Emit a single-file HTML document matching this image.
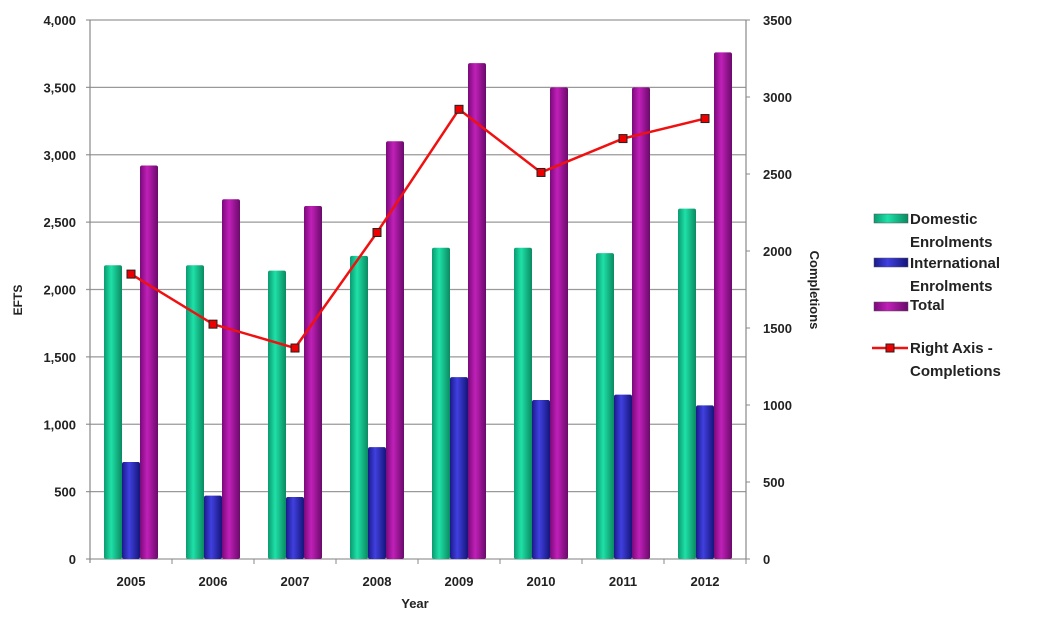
<!DOCTYPE html>
<html><head><meta charset="utf-8"><style>
html,body{margin:0;padding:0;background:#fff}
svg text{font-family:"Liberation Sans",sans-serif;font-weight:bold;fill:#222}
</style></head><body>
<svg width="1040" height="622" viewBox="0 0 1040 622">
<defs>
<linearGradient id="gG" x1="0" x2="1"><stop offset="0" stop-color="#0a9a70"/><stop offset="0.4" stop-color="#1fe0a8"/><stop offset="1" stop-color="#0a8a60"/></linearGradient>
<linearGradient id="gB" x1="0" x2="1"><stop offset="0" stop-color="#1a1a8a"/><stop offset="0.4" stop-color="#4040e0"/><stop offset="1" stop-color="#15157a"/></linearGradient>
<linearGradient id="gM" x1="0" x2="1"><stop offset="0" stop-color="#7a0a7a"/><stop offset="0.4" stop-color="#c020b8"/><stop offset="1" stop-color="#6a0a6a"/></linearGradient>
</defs>
<g id="grid"></g>
<g id="bars"></g>
<g id="line"></g>
<g id="axes"></g>
<text x="0" y="0" transform="translate(22,300) rotate(-90)" text-anchor="middle" font-size="12">EFTS</text>
<text x="0" y="0" transform="translate(810,290) rotate(90)" text-anchor="middle" font-size="13">Completions</text>
<text x="415" y="608" text-anchor="middle" font-size="13">Year</text>
<g font-size="15">
<g><rect x="874" y="214" width="34" height="9" fill="url(#gG)" stroke="#555" stroke-width="0.5"/><text x="910" y="224" font-size="15">Domestic</text><text x="910" y="247" font-size="15">Enrolments</text></g>
<g><rect x="874" y="258" width="34" height="9" fill="url(#gB)" stroke="#555" stroke-width="0.5"/><text x="910" y="268" font-size="15">International</text><text x="910" y="291" font-size="15">Enrolments</text></g>
<g><rect x="874" y="302" width="34" height="9" fill="url(#gM)" stroke="#555" stroke-width="0.5"/><text x="910" y="310" font-size="15">Total</text></g>
<g><line x1="872" y1="348" x2="908" y2="348" stroke="#f01010" stroke-width="2.5"/><rect x="886" y="344" width="8" height="8" fill="#e00" stroke="#222" stroke-width="1"/><text x="910" y="353" font-size="15">Right Axis -</text><text x="910" y="376" font-size="15">Completions</text></g>
</g>
</svg>
<script>
const years=["2005","2006","2007","2008","2009","2010","2011","2012"];
const domestic=[2180,2180,2140,2250,2310,2310,2270,2600];
const international=[720,470,460,830,1350,1180,1220,1140];
const total=[2920,2670,2620,3100,3680,3500,3500,3760];
const completions=[1850,1525,1370,2120,2920,2510,2730,2860];
const leftTicks=[0,500,1000,1500,2000,2500,3000,3500,4000];
const rightTicks=[0,500,1000,1500,2000,2500,3000,3500];

const NS="http://www.w3.org/2000/svg";
const X0=90,X1=746,Y0=559,YT=20;
const bw=(X1-X0)/years.length;
const yL=v=>Y0-(v/4000)*(Y0-YT);
const yR=v=>Y0-(v/3500)*(Y0-YT);
const xC=i=>X0+bw*(i+0.5);
function mk(tag,attrs,parent){const e=document.createElementNS(NS,tag);for(const k in attrs)e.setAttribute(k,attrs[k]);parent.appendChild(e);return e;}
const grid=document.getElementById('grid'),bars=document.getElementById('bars'),line=document.getElementById('line'),axes=document.getElementById('axes');
leftTicks.forEach(t=>{
  const g=mk('line',{x1:X0-4,x2:X1,y1:yL(t),y2:yL(t),stroke:'#999','stroke-width':1.2},grid);
  
  
  const tx=mk('text',{x:X0-14,y:yL(t)+5,'text-anchor':'end','font-size':13},axes);
  tx.textContent=t.toLocaleString('en-US');
  
  
});
rightTicks.forEach(t=>{
  mk('line',{x1:X1,x2:X1+4,y1:yR(t),y2:yR(t),stroke:'#888'},axes);
  const tx=mk('text',{x:X1+17,y:yR(t)+5,'font-size':13},axes);
  tx.textContent=t;
  
  
});
mk('line',{x1:X0,x2:X0,y1:YT,y2:Y0+4,stroke:'#888','stroke-width':1.2},axes);
mk('line',{x1:X1,x2:X1,y1:YT,y2:Y0,stroke:'#888','stroke-width':1.2},axes);
const W=18;
years.forEach((y,i)=>{
  const c=xC(i);
  [[domestic,'url(#gG)',-1.5,'bar-domestic-'],[international,'url(#gB)',-0.5,'bar-international-'],[total,'url(#gM)',0.5,'bar-total-']].forEach(([arr,f,o,n])=>{
    const r=mk('rect',{x:c+o*W,y:yL(arr[i]),width:W,height:Y0-yL(arr[i]),fill:f,rx:2},bars);
    
    
  });
  mk('line',{x1:X0+bw*(i+1),x2:X0+bw*(i+1),y1:Y0,y2:Y0+5,stroke:'#888'},axes);
  const tx=mk('text',{x:c,y:Y0+27,'text-anchor':'middle','font-size':13},axes);
  tx.textContent=y;
  
  
});
const pts=completions.map((v,i)=>xC(i)+','+yR(v)).join(' ');
mk('polyline',{points:pts,fill:'none',stroke:'#f01010','stroke-width':2.5},line);
completions.forEach((v,i)=>{
  const m=mk('rect',{x:xC(i)-4,y:yR(v)-4,width:8,height:8,fill:'#e00',stroke:'#222','stroke-width':1},line);
  
  
});
</script>
</body></html>
